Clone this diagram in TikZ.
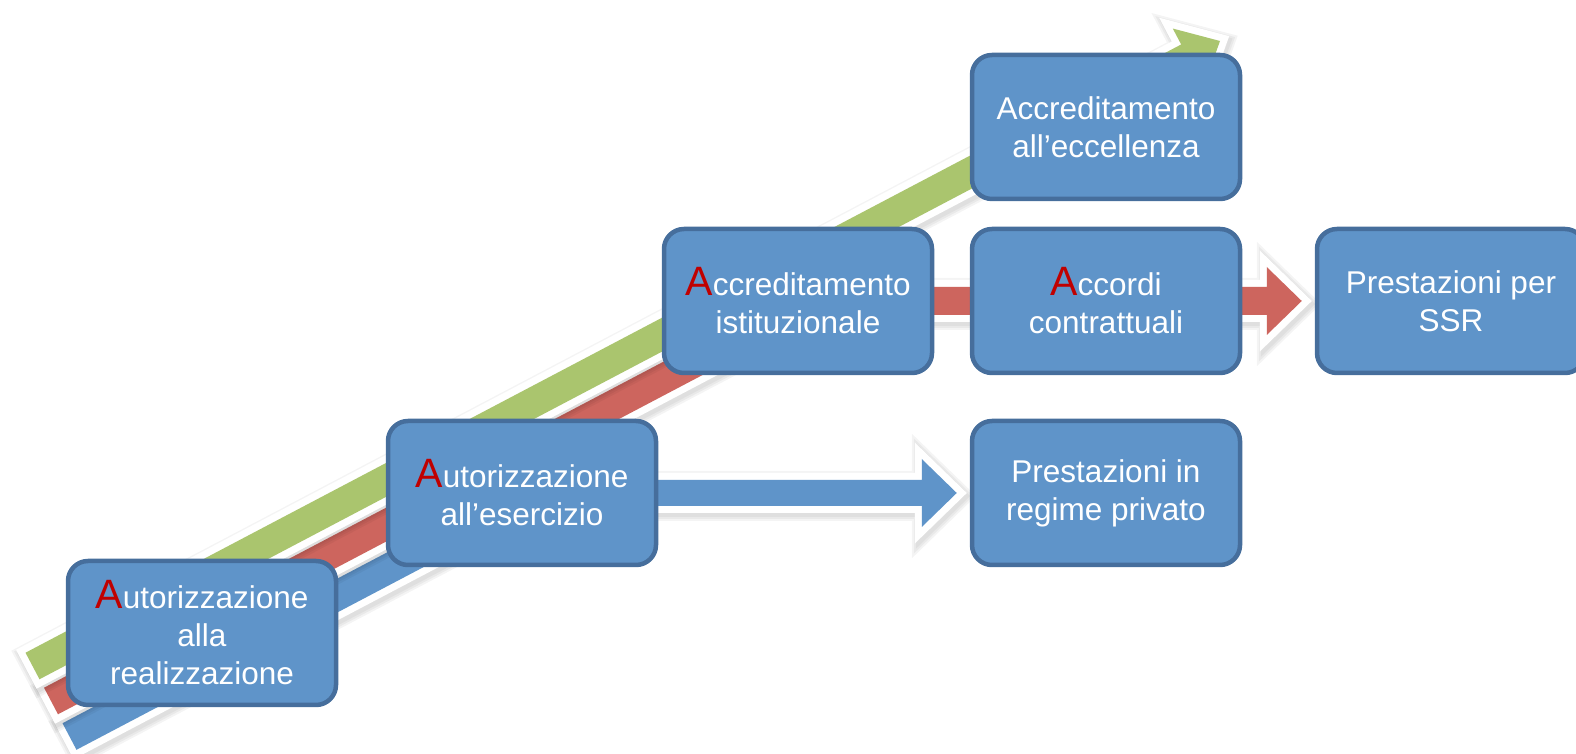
\documentclass[tikz,border=0pt]{standalone}
\usepackage{fontspec}
\setmainfont{Liberation Sans}
\usetikzlibrary{calc}
\usetikzlibrary{shadows}
\usetikzlibrary{backgrounds}
\definecolor{boxfill}{RGB}{95,148,201}
\definecolor{boxline}{RGB}{70,110,156}
\definecolor{greenbar}{RGB}{170,197,110}
\definecolor{redbar}{RGB}{205,101,94}
\definecolor{bluebar}{RGB}{95,148,201}
\definecolor{letterred}{RGB}{192,0,0}
\newcommand{\firstA}{\textcolor{letterred}{\fontsize{41}{38}\selectfont A}}

\begin{document}
\begin{tikzpicture}[x=1pt,y=1pt,
  box/.style={draw=boxline,fill=boxfill,line width=4.5pt,rounded corners=20pt,minimum width=268pt,minimum height=144pt,inner sep=0pt,align=center,text=white,font=\fontsize{31.5}{38}\selectfont},
  soft shadow/.style={drop shadow={shadow xshift=2pt,shadow yshift=-3pt,opacity=0.045,fill=black,draw=black,line width=#1}},
  stripe/.style={soft shadow=24pt,soft shadow=20pt,soft shadow=16pt,preaction={draw=white,line width=14pt,line join=miter},fill=#1}]
  \useasboundingbox (0,0) rectangle (1576,754);
  %boxes
  %lower
  \node[box] (real) at (202,121) {\firstA utorizzazione\\alla\\realizzazione};
  \node[box] (eser) at (522,261) {\firstA utorizzazione\\all’esercizio};
  \node[box] (privato) at (1106,261) {Prestazioni in\\regime privato};
  %upper
  \node[box] (istit) at (798,453) {\firstA ccreditamento\\istituzionale};
  \node[box] (accordi) at (1106,453) {\firstA ccordi\\contrattuali};
  \node[box] (ssr) at (1451,453) {Prestazioni per\\SSR};
  \node[box] (eccel) at (1106,627) {Accreditamento\\all’eccellenza};

  %stripes
  \begin{scope}[on background layer]
    \coordinate (bs) at (69.5,17.5);
    \coordinate (rs) at (51,53);
    \coordinate (gs) at (32.5,88);
    %blue
    \begin{scope}[shift={(bs)},rotate=27.76]
      \path[stripe=bluebar] (0,-15) rectangle (511,15);
    \end{scope}
    \path[stripe=bluebar] ($(eser.center)+(0,-13)$) -- ($(privato.west)+(-48,-13)$) -- ($(privato.west)+(-48,-34)$) -- ($(privato.west)+(-13,0)$) -- ($(privato.west)+(-48,34)$) -- ($(privato.west)+(-48,13)$) -- ($(eser.center)+(0,13)$) -- cycle;
    %red
    \begin{scope}[shift={(rs)},rotate=27.76]
      \path[stripe=redbar] (0,-15) rectangle (844,15);
    \end{scope}
    \path[stripe=redbar] ($(istit.center)+(0,-14)$) -- ($(ssr.west)+(-48,-14)$) -- ($(ssr.west)+(-48,-34)$) -- ($(ssr.west)+(-13,0)$) -- ($(ssr.west)+(-48,34)$) -- ($(ssr.west)+(-48,14)$) -- ($(istit.center)+(0,14)$) -- cycle;
    %green
    \begin{scope}[shift={(gs)},rotate=27.76]
      \path[stripe=greenbar] (0,-15) -- (1306,-15) -- (1306,-33) -- (1342,0) -- (1306,33) -- (1306,15) -- (0,15) -- cycle;
    \end{scope}
  \end{scope}
\end{tikzpicture}
\end{document}
